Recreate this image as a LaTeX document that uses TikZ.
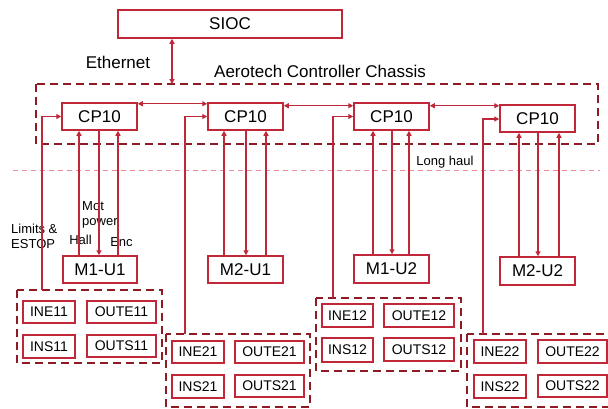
\documentclass[tikz,border=0pt]{standalone}
\usepackage{fontspec}
\setmainfont{Liberation Sans}
\usetikzlibrary{arrows.meta}
\definecolor{boxred}{HTML}{C0283A}
\definecolor{darkred}{HTML}{8E1A24}
\definecolor{pinkline}{HTML}{EC8C98}
\tikzset{
  box/.style={draw=boxred, line width=1.5pt, fill=white, inner sep=0pt, font=\fontsize{17}{19}\selectfont},
  small/.style={draw=boxred, line width=1.4pt, fill=white, inner sep=0pt, font=\fontsize{14}{16}\selectfont},
  group/.style={draw=darkred, line width=2.3pt, dash pattern=on 8pt off 5pt},
  conn/.style={draw=boxred, line width=1.3pt},
  tip/.style={-{Triangle[length=5pt,width=5pt]}},
  dtip/.style={{Triangle[length=5pt,width=5pt]}-{Triangle[length=5pt,width=5pt]}},
  lbl/.style={font=\fontsize{13}{15.5}\selectfont, inner sep=0pt, align=left},
  big/.style={font=\fontsize{17}{19}\selectfont, inner sep=0pt}
}
\begin{document}
\begin{tikzpicture}[x=1pt, y=-1pt]
\useasboundingbox (0,0) rectangle (608,408);
% chassis and long haul
\draw[group] (36,84) rectangle (598,144);
\draw[pinkline, line width=1pt, dash pattern=on 5pt off 4pt] (13,170) -- (600,170);
% groups
\draw[group] (17,290) rectangle (162,363);
\draw[group] (166,334) rectangle (310,407);
\draw[group] (316,298) rectangle (461,371);
\draw[group] (467,334) rectangle (625,407);
% main nodes
\node[box, minimum width=224pt, minimum height=28pt] (sioc) at (230,24) {SIOC};
\node[box, minimum width=75pt, minimum height=27pt] (cp1) at (99.5,116.5) {CP10};
\node[box, minimum width=75pt, minimum height=27pt] (cp2) at (245.5,116.5) {CP10};
\node[box, minimum width=75pt, minimum height=27pt] (cp3) at (391.5,116.5) {CP10};
\node[box, minimum width=75pt, minimum height=27pt] (cp4) at (537.5,118.5) {CP10};
\node[box, minimum width=74pt, minimum height=27pt] (m11) at (100,269.5) {M1-U1};
\node[box, minimum width=75pt, minimum height=27pt] (m21) at (245.5,269.5) {M2-U1};
\node[box, minimum width=75pt, minimum height=28pt] (m12) at (391.5,269) {M1-U2};
\node[box, minimum width=75pt, minimum height=28pt] (m22) at (537.5,271) {M2-U2};
% IO boxes
\node[small, minimum width=52pt, minimum height=22pt] (ine11) at (49,312) {INE11};
\node[small, minimum width=69pt, minimum height=22pt] (oute11) at (121.5,312) {OUTE11};
\node[small, minimum width=52pt, minimum height=23pt] (ins11) at (49,346.5) {INS11};
\node[small, minimum width=69pt, minimum height=22pt] (outs11) at (121.5,346) {OUTS11};
\node[small, minimum width=52pt, minimum height=22pt] (ine21) at (198,352) {INE21};
\node[small, minimum width=69pt, minimum height=22pt] (oute21) at (269.5,352) {OUTE21};
\node[small, minimum width=52pt, minimum height=23pt] (ins21) at (198,386.5) {INS21};
\node[small, minimum width=69pt, minimum height=22pt] (outs21) at (269.5,386) {OUTS21};
\node[small, minimum width=51pt, minimum height=23pt] (ine12) at (347.5,315.5) {INE12};
\node[small, minimum width=70pt, minimum height=23pt] (oute12) at (419,315.5) {OUTE12};
\node[small, minimum width=51pt, minimum height=24pt] (ins12) at (347.5,350) {INS12};
\node[small, minimum width=70pt, minimum height=23pt] (outs12) at (419,349.5) {OUTS12};
\node[small, minimum width=52pt, minimum height=23pt] (ine22) at (500,351.5) {INE22};
\node[small, minimum width=69pt, minimum height=23pt] (oute22) at (572.5,351.5) {OUTE22};
\node[small, minimum width=52pt, minimum height=23pt] (ins22) at (500,386.5) {INS22};
\node[small, minimum width=69pt, minimum height=22pt] (outs22) at (572.5,386) {OUTS22};
% labels
\node[big] (eth) at (118,62) {Ethernet};
\node[big] (chas) at (320,71) {Aerotech Controller Chassis};
\node[lbl] (lh) at (445,162) {Long haul};
\node[lbl, anchor=west] (lim) at (11,236.5) {Limits \&\\ESTOP};
\node[lbl, anchor=west] (mot) at (82,215) {Mot\\power};
\node[lbl] (hall) at (80.5,240) {Hall};
\node[lbl] (enc) at (121.5,242) {Enc};
% coordinates on group tops
\coordinate (g1) at (42,290);
\coordinate (g2) at (185,334);
\coordinate (g3) at (333,298);
\coordinate (g4) at (483,334);
\coordinate (ch) at (172,84);
% Ethernet
\draw[conn, dtip] (sioc.south -| ch) -- (ch);
% CP chain
\draw[conn, dtip] ([yshift=-1.5pt]cp1.north east) -- ([yshift=-1.5pt]cp1.north east -| cp2.west);
\draw[conn, dtip] ([yshift=-3.5pt]cp2.north east) -- ([yshift=-3.5pt]cp2.north east -| cp3.west);
\draw[conn, dtip] ([yshift=-3.5pt]cp3.north east) -- ([yshift=-3.5pt]cp3.north east -| cp4.west);
% limits lines
\draw[conn, tip] (g1) |- (cp1.west);
\draw[conn, tip] (g2) |- (cp2.west);
\draw[conn, tip] (g3) |- (cp3.west);
\draw[conn, tip] (g4) |- ([yshift=-0.5pt]cp4.west);
% motor connections
\foreach \m/\c/\a/\b/\d in {m11/cp1/79/99/118, m21/cp2/224/246/266, m12/cp3/373/392/409, m22/cp4/519/538/559}{
  \draw[conn, tip] (\m.north -| \a,0) -- (\c.south -| \a,0);
  \draw[conn, tip] (\c.south -| \b,0) -- (\m.north -| \b,0);
  \draw[conn, tip] (\m.north -| \d,0) -- (\c.south -| \d,0);
}
\end{tikzpicture}
\end{document}
